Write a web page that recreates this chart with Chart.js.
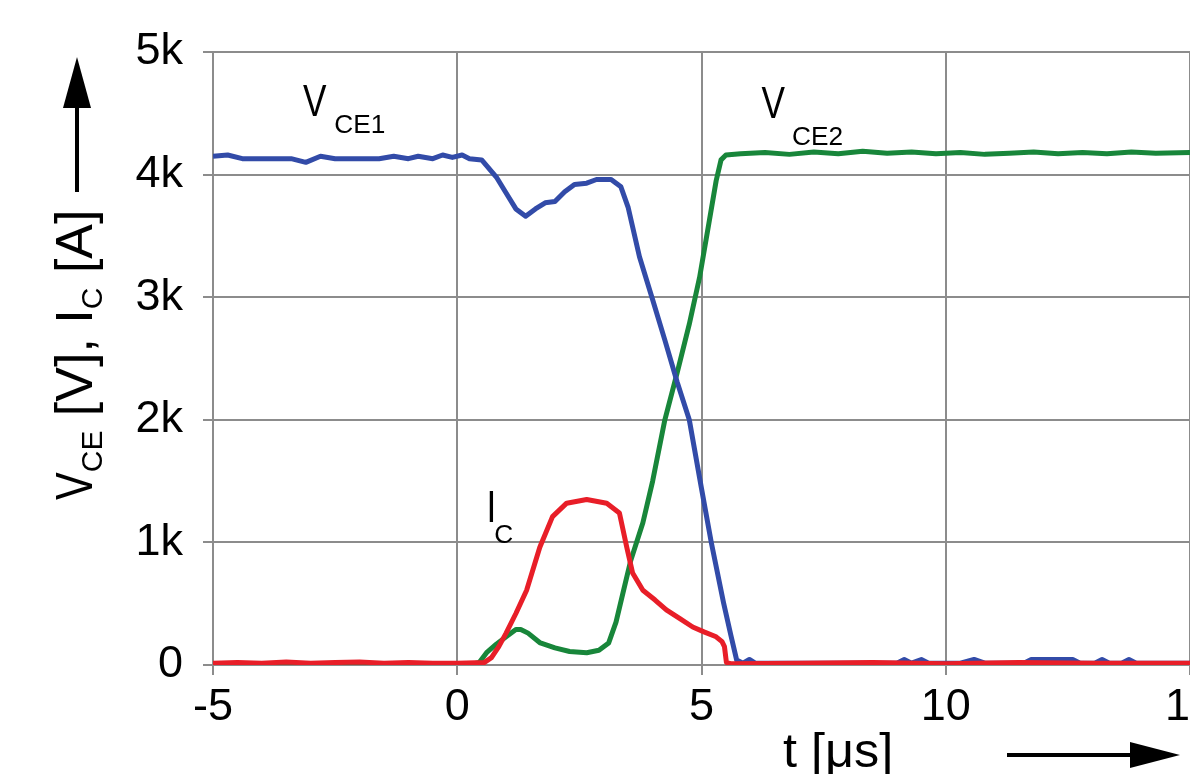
<html>
    <head>
        <script src="https://cdn.jsdelivr.net/npm/chart.js@4.4.1/dist/chart.umd.min.js"></script>
        <style>
            body {
                margin: 0;
                padding: 0;
                background: white;
                overflow: hidden;
            }
            #box {
                position: absolute;
                left: 0;
                top: 0;
            }
        </style>
    </head>
    <body>
        <div id="box">
            <canvas id="myChart" width="1240" height="774"></canvas>
        </div>

        <script>
        // x ticks and y ticks
        const xTicks = [-5, 0, 5, 10, 15];
        const yTicks = [0, 1000, 2000, 3000, 4000, 5000];
        const yTickLabels = ['0', '1k', '2k', '3k', '4k', '5k'];

        // V_CE1 (blue), time in us, value in V
        const vce1T = [-5, -4.7, -4.4, -3.9, -3.4, -3.1, -2.8, -2.5, -2.0, -1.6, -1.3, -1.0, -0.8, -0.5, -0.3, -0.1,
            0.1, 0.25, 0.5, 0.8, 1.0, 1.2, 1.4, 1.6, 1.8, 2.0, 2.2, 2.4, 2.65, 2.85, 3.15, 3.35, 3.5, 3.73,
            4.0, 4.25, 4.5, 4.75, 5.0, 5.2, 5.45, 5.6, 5.72, 5.85, 5.98, 6.1, 7.0, 8.0, 9.0, 9.15, 9.3, 9.5, 9.65,
            10.3, 10.58, 10.8, 11.6, 11.75, 12.6, 12.75, 13.05, 13.2, 13.35, 13.6, 13.75, 13.9, 15];
        const vce1V = [4150, 4160, 4130, 4130, 4130, 4100, 4150, 4130, 4130, 4130, 4150, 4130, 4150, 4130, 4160, 4140,
            4160, 4130, 4120, 3980, 3850, 3720, 3660, 3720, 3770, 3780, 3860, 3920, 3930, 3960, 3960, 3900, 3730, 3330,
            2980, 2650, 2310, 2000, 1440, 1000, 510, 245, 40, 15, 45, 15, 15, 15, 15, 45, 15, 45, 15,
            15, 45, 15, 15, 45, 45, 15, 15, 45, 15, 15, 45, 15, 15];

        // V_CE2 (green)
        const vce2T = [-5, 0.35, 0.45, 0.6, 0.8, 1.0, 1.2, 1.3, 1.45, 1.7, 2.0, 2.3, 2.65, 2.9, 3.1, 3.25, 3.4, 3.55,
            3.8, 4.0, 4.25, 4.5, 4.75, 4.96, 5.15, 5.3, 5.4, 5.5, 5.8, 6.3, 6.8, 7.3, 7.8, 8.3, 8.8, 9.3, 9.8,
            10.3, 10.8, 11.3, 11.8, 12.3, 12.8, 13.3, 13.8, 14.3, 15];
        const vce2V = [10, 10, 20, 100, 170, 230, 290, 290, 260, 180, 140, 110, 100, 120, 180, 350, 600, 850,
            1160, 1500, 2000, 2380, 2780, 3160, 3600, 3950, 4120, 4160, 4170, 4180, 4165, 4185, 4170, 4190, 4175, 4185, 4170,
            4180, 4165, 4175, 4185, 4170, 4180, 4170, 4185, 4175, 4180];

        // I_C (red), value in A
        const icT = [-5, -4.5, -4.0, -3.5, -3.0, -2.5, -2.0, -1.5, -1.0, -0.5, 0, 0.55, 0.7, 0.85, 1.0, 1.2, 1.42, 1.69,
            1.95, 2.24, 2.65, 3.06, 3.32, 3.47, 3.59, 3.8, 4.05, 4.28, 4.55, 4.82, 5.05, 5.3, 5.42, 5.47, 5.51, 5.6,
            7.0, 8.5, 10.0, 11.5, 13.0, 15];
        const icV = [15, 20, 15, 25, 15, 20, 25, 15, 20, 15, 15, 20, 60, 150, 260, 420, 610, 960,
            1210, 1320, 1350, 1320, 1240, 960, 750, 610, 530, 450, 380, 310, 270, 230, 190, 150, 20, 10,
            15, 20, 10, 20, 15, 15];

        function pts(t, v) {
            return t.map((x, i) => ({x: x, y: v[i]}));
        }

        const blue = 'rgb(50, 75, 168)';
        const green = 'rgb(24, 134, 58)';
        const red = 'rgb(232, 30, 40)';
        const gridGray = 'rgb(140, 140, 140)';
        const fontFam = '"Liberation Sans", Arial, sans-serif';

        // draw text parts (with subscripts) one after another
        function richText(c, parts, x, y) {
            c.save();
            c.translate(x, y);
            c.fillStyle = 'black';
            c.textBaseline = 'alphabetic';
            c.textAlign = 'left';
            let cx = 0;
            for (const p of parts) {
                const sx = p.sx || 1;
                cx += p.dx || 0;
                c.font = p.size + 'px ' + fontFam;
                c.save();
                c.translate(cx, p.dy || 0);
                c.scale(sx, 1);
                c.fillText(p.text, 0, 0);
                c.restore();
                cx += c.measureText(p.text).width * sx;
            }
            c.restore();
        }

        const labelsPlugin = {
            id: 'labels',
            afterDraw(chart) {
                const c = chart.ctx;
                const xs = chart.scales.x, ys = chart.scales.y;

                // curve names
                richText(c, [{text: 'V', size: 44, sx: 0.8}, {text: 'CE1', size: 25, sx: 1.05, dx: 8, dy: 17}],
                    xs.getPixelForValue(-3.16), ys.getPixelForValue(4478));
                richText(c, [{text: 'V', size: 44, sx: 0.8}, {text: 'CE2', size: 25, sx: 1.05, dx: 7, dy: 27}],
                    xs.getPixelForValue(6.23), ys.getPixelForValue(4462));
                richText(c, [{text: 'I', size: 44, sx: 0.8}, {text: 'C', size: 25, sx: 1.05, dx: -2, dy: 21}],
                    xs.getPixelForValue(0.6), ys.getPixelForValue(1166));

                // y axis title, rotated
                c.save();
                c.translate(92, 500);
                c.rotate(-Math.PI / 2);
                richText(c, [
                    {text: 'V', size: 52, sx: 0.8},
                    {text: 'CE', size: 30, dy: 10},
                    {text: ' [V], I', size: 52},
                    {text: 'C', size: 30, dy: 10},
                    {text: ' [A]', size: 52}
                ], 0, 0);
                c.restore();

                // x axis title
                richText(c, [{text: 't [μs]', size: 48, sx: 1.05}], 783, 767);

                // arrows
                c.save();
                c.strokeStyle = 'black';
                c.fillStyle = 'black';
                c.lineWidth = 4;
                c.beginPath();
                c.moveTo(77, 192);
                c.lineTo(77, 100);
                c.stroke();
                c.beginPath();
                c.moveTo(77, 57);
                c.lineTo(63, 108);
                c.lineTo(91, 108);
                c.closePath();
                c.fill();

                c.beginPath();
                c.moveTo(1007, 755);
                c.lineTo(1135, 755);
                c.stroke();
                c.beginPath();
                c.moveTo(1180, 755);
                c.lineTo(1130, 742);
                c.lineTo(1130, 768);
                c.closePath();
                c.fill();
                c.restore();
            }
        };

        const ctx = document.getElementById('myChart').getContext('2d');
        const myChart = new Chart(ctx, {
            type: 'line',
            data: {
                datasets: [
                    {label: 'I_C', data: pts(icT, icV), borderColor: red, borderWidth: 5},
                    {label: 'V_CE1', data: pts(vce1T, vce1V), borderColor: blue, borderWidth: 5},
                    {label: 'V_CE2', data: pts(vce2T, vce2V), borderColor: green, borderWidth: 5}
                ]
            },
            options: {
                responsive: false,
                animation: false,
                events: [],
                elements: {
                    point: {radius: 0},
                    line: {tension: 0, fill: false, borderJoinStyle: 'round'}
                },
                layout: {
                    padding: {left: 0, top: 52, right: 50, bottom: 0}
                },
                plugins: {
                    legend: {display: false},
                    tooltip: {enabled: false}
                },
                scales: {
                    x: {
                        type: 'linear',
                        min: -5,
                        max: 15,
                        afterBuildTicks: (s) => { s.ticks = xTicks.map(v => ({value: v})); },
                        afterFit: (s) => { s.height = 109; },
                        grid: {color: gridGray, lineWidth: 2, tickLength: 10, drawTicks: true},
                        border: {color: gridGray, width: 2},
                        ticks: {
                            color: 'black',
                            padding: 6,
                            maxRotation: 0,
                            font: {family: fontFam, size: 45}
                        }
                    },
                    y: {
                        min: 0,
                        max: 5000,
                        afterBuildTicks: (s) => { s.ticks = yTicks.map(v => ({value: v})); },
                        afterFit: (s) => { s.width = 213; },
                        grid: {color: gridGray, lineWidth: 2, tickLength: 10, drawTicks: true},
                        border: {color: gridGray, width: 2},
                        ticks: {
                            color: 'black',
                            padding: 20,
                            callback: (v) => yTickLabels[yTicks.indexOf(v)],
                            font: {family: fontFam, size: 45}
                        }
                    }
                }
            },
            plugins: [labelsPlugin]
        });
        </script>
    </body>
</html>
